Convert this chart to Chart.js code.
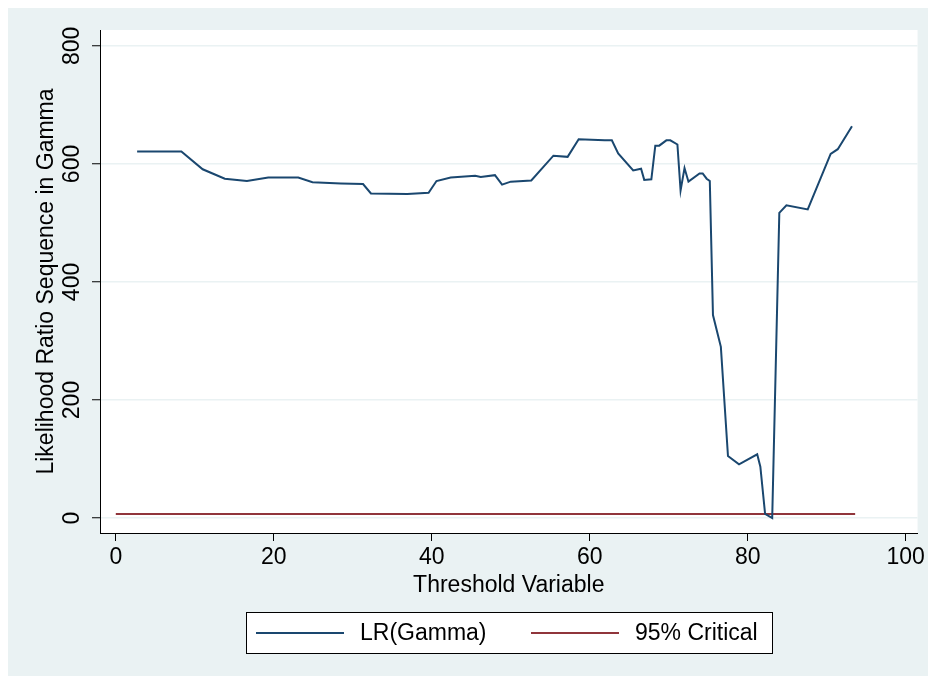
<!DOCTYPE html>
<html>
<head>
<meta charset="utf-8">
<script src="https://cdn.jsdelivr.net/npm/chart.js@4.4.1/dist/chart.umd.min.js"></script>
<style>
  body { margin: 0; background: #fff; }
  #wrap { position: absolute; left: 8px; top: 8px; width: 920px; height: 668px; background: #eaf2f3; }
</style>
</head>
<body>
<div id="wrap"><canvas id="myChart" width="920" height="668"></canvas></div>
<script>
// threshold variable (x) and LR(gamma) values
const thresholdX = [2.7, 8.3, 11.0, 13.8, 16.6, 19.3, 23.1, 24.9, 28.5, 31.3, 32.3, 36.9, 39.6, 40.6,
  42.4, 45.5, 46.2, 48.0, 48.9, 50.0, 52.6, 55.4, 57.2, 58.6, 61.9, 62.8, 63.6, 65.5, 66.5, 66.9,
  67.8, 68.3, 68.8, 69.7, 70.2, 71.1, 71.5, 72.0, 72.5, 73.9, 74.3, 74.8, 75.2, 75.6, 76.6, 77.5,
  78.9, 81.2, 81.6, 82.2, 83.1, 84.0, 84.9, 87.6, 90.5, 91.4, 93.2];
const lrValues = [621, 621, 591, 575, 571, 577, 577, 569, 567, 566, 550, 549, 551, 571,
  577, 580, 578, 581, 565, 570, 572, 614, 612, 642, 640, 640, 618, 589, 592, 573,
  574, 631, 631, 640, 640, 633, 555, 593, 570, 584, 584, 575, 571, 344, 290, 105,
  91, 108, 87, 7, 0, 517, 530, 523, 617, 625, 664];

// 95% critical value line
const critX = [0, 93.6];
const critValues = [7, 7];

const xTicks = [0, 20, 40, 60, 80, 100];
const yTicks = [0, 200, 400, 600, 800];

const seriesNames = ["LR(Gamma)", "95% Critical"];
const FONT = '"Liberation Sans", Arial, sans-serif';

function pts(xs, ys) {
  return xs.map((x, i) => ({ x: x, y: ys[i] }));
}

// white plot region
const plotBg = {
  id: 'plotBg',
  beforeDraw(chart) {
    const a = chart.chartArea;
    chart.ctx.save();
    chart.ctx.fillStyle = '#fff';
    chart.ctx.fillRect(a.left, a.top, a.right - a.left, a.bottom - a.top);
    chart.ctx.restore();
  }
};

// stata style legend in a box
const boxLegend = {
  id: 'boxLegend',
  afterDraw(chart) {
    const ctx = chart.ctx;
    const a = chart.chartArea;
    const w = 527, h = 42;
    const x0 = Math.round((a.left + a.right) / 2 - w / 2 + 1);
    const y0 = 604;
    ctx.save();
    ctx.fillStyle = '#fff';
    ctx.fillRect(x0, y0, w, h);
    ctx.strokeStyle = '#000';
    ctx.lineWidth = 1;
    ctx.strokeRect(x0 + 0.5, y0 + 0.5, w - 1, h - 1);
    ctx.font = '23px ' + FONT;
    ctx.textBaseline = 'middle';
    const cy = y0 + h / 2;
    chart.data.datasets.forEach((ds, i) => {
      const x = x0 + 10 + i * 275;
      ctx.strokeStyle = ds.borderColor;
      ctx.lineWidth = 2;
      ctx.beginPath();
      ctx.moveTo(x, cy);
      ctx.lineTo(x + 88, cy);
      ctx.stroke();
      ctx.fillStyle = '#000';
      ctx.fillText(ds.label, x + 104, cy + 1);
    });
    ctx.restore();
  }
};

const ctx = document.getElementById('myChart').getContext('2d');
const myChart = new Chart(ctx, {
  type: 'line',
  data: {
    datasets: [{
      label: seriesNames[0],
      data: pts(thresholdX, lrValues),
      borderColor: '#1a476f',
      borderWidth: 2,
      pointRadius: 0,
      tension: 0
    }, {
      label: seriesNames[1],
      data: pts(critX, critValues),
      borderColor: '#90353b',
      borderWidth: 2,
      pointRadius: 0,
      tension: 0
    }]
  },
  options: {
    responsive: false,
    animation: false,
    layout: { padding: { top: 22, right: 8, bottom: 68, left: 0 } },
    plugins: {
      legend: { display: false },
      tooltip: { enabled: false }
    },
    scales: {
      x: {
        type: 'linear',
        min: -2,
        max: 101.5,
        afterBuildTicks: s => { s.ticks = xTicks.map(v => ({ value: v })); },
        afterFit: s => { s.height = 75; },
        grid: { drawOnChartArea: false, tickLength: 8, tickColor: '#000', tickWidth: 1 },
        border: { color: '#000', width: 1 },
        ticks: { color: '#000', font: { family: FONT, size: 23 }, padding: 3, maxRotation: 0, autoSkip: false },
        title: { display: true, text: 'Threshold Variable', color: '#000',
          font: { family: FONT, size: 23 }, padding: { top: 0, bottom: 9 } }
      },
      y: {
        min: -25.4,
        max: 827,
        afterBuildTicks: s => { s.ticks = yTicks.map(v => ({ value: v })); },
        afterFit: s => { s.width = 92; },
        grid: { color: '#eaf2f3', lineWidth: 1.5, tickLength: 8, tickColor: '#000', tickWidth: 1 },
        border: { color: '#000', width: 1 },
        ticks: { color: '#000', font: { family: FONT, size: 23 }, padding: 0,
          minRotation: 90, maxRotation: 90, crossAlign: 'center', autoSkip: false },
        title: { display: true, text: 'Likelihood Ratio Sequence in Gamma', color: '#000',
          font: { family: FONT, size: 23 }, padding: { top: 25, bottom: 0 } }
      }
    }
  },
  plugins: [plotBg, boxLegend]
});
</script>
</body>
</html>
